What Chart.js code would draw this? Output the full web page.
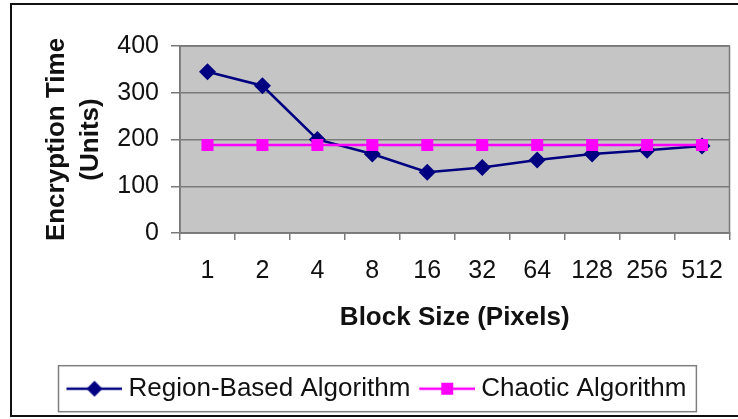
<!DOCTYPE html>
<html>
<head>
<meta charset="utf-8">
<script src="https://cdn.jsdelivr.net/npm/chart.js@4/dist/chart.umd.min.js"></script>
<style>
  html, body { margin: 0; padding: 0; background: #fff; }
  #wrap { position: relative; width: 738px; height: 419px; }
</style>
</head>
<body>
<div id="wrap"><canvas id="grafico"></canvas></div>
<script>
// Dados
const blocos = ['1', '2', '4', '8', '16', '32', '64', '128', '256', '512'];
const regionBased = [345, 315, 200, 169, 130, 140, 156, 169, 177, 186];
const chaotic = [188, 188, 188, 188, 188, 188, 188, 188, 188, 188];
const yTicks = [0, 100, 200, 300, 400];

const fonte = '"Liberation Sans", Arial, sans-serif';
const azul = '#000080';
const rosa = '#ff00ff';
const cinzaGrade = '#7a7a7a';

// icones da legenda: linha com marcador (desenhados na parte direita da imagem)
function iconeLegenda(cor, forma) {
  const c = document.createElement('canvas');
  c.width = 64; c.height = 20;
  const g = c.getContext('2d');
  g.strokeStyle = cor; g.lineWidth = 2.5;
  g.beginPath(); g.moveTo(8, 10); g.lineTo(64, 10); g.stroke();
  g.fillStyle = cor;
  g.beginPath();
  if (forma === 'diamante') {
    g.moveTo(36, 2); g.lineTo(44, 10); g.lineTo(36, 18); g.lineTo(28, 10);
  } else {
    g.rect(30, 4, 12, 12);
  }
  g.closePath(); g.fill();
  return c;
}
const icones = [iconeLegenda(azul, 'diamante'), iconeLegenda(rosa, 'quadrado')];

const fundo = {
  id: 'fundo',
  beforeDraw(chart) {
    const { ctx, chartArea: a } = chart;
    ctx.save();
    ctx.fillStyle = '#fff';
    ctx.fillRect(0, 0, chart.width, chart.height);
    ctx.strokeStyle = '#111';
    ctx.lineWidth = 2;
    ctx.strokeRect(11, 4, 740, 412);
    ctx.fillStyle = '#c5c5c5';
    ctx.fillRect(a.left, a.top, a.right - a.left, a.bottom - a.top);
    ctx.restore();
  },
  beforeDatasetsDraw(chart) {
    const { ctx, chartArea: a } = chart;
    ctx.save();
    ctx.strokeStyle = cinzaGrade;
    ctx.lineWidth = 1.5;
    ctx.strokeRect(a.left, a.top, a.right - a.left, a.bottom - a.top);
    ctx.restore();
  },
  afterDraw(chart) {
    const hb = chart.legend && chart.legend.legendHitBoxes;
    if (!hb || !hb.length) return;
    const { ctx } = chart;
    const ult = hb[hb.length - 1];
    const cy = hb[0].top + hb[0].height / 2;
    const esq = hb[0].left - 7;
    ctx.save();
    ctx.strokeStyle = '#808080';
    ctx.lineWidth = 1.5;
    ctx.strokeRect(esq, cy - 23, ult.left + ult.width + 10 - esq, 46);
    ctx.restore();
  }
};

new Chart(document.getElementById('grafico'), {
  type: 'line',
  data: {
    labels: blocos,
    datasets: [
      {
        label: 'Region-Based Algorithm', data: regionBased, order: 1,
        borderColor: azul, backgroundColor: azul, borderWidth: 2.5,
        pointStyle: 'rectRot', pointRadius: 8.5, pointBorderWidth: 0, tension: 0
      },
      {
        label: 'Chaotic Algorithm', data: chaotic, order: 0,
        borderColor: rosa, backgroundColor: rosa, borderWidth: 2.5,
        pointStyle: 'rect', pointRadius: 8.5, pointBorderWidth: 0, tension: 0
      }
    ]
  },
  options: {
    responsive: true,
    maintainAspectRatio: false,
    animation: false,
    layout: { padding: { left: 21.9, right: 8, top: 46, bottom: 7.3 } },
    plugins: {
      tooltip: { enabled: false },
      legend: {
        position: 'bottom',
        labels: {
          font: { family: fonte, size: 26 },
          color: '#111',
          usePointStyle: true,
          boxWidth: 50,
          pointStyleWidth: 50,
          padding: 7.9,
          sort: (a, b) => a.datasetIndex - b.datasetIndex,
          generateLabels(chart) {
            const itens = Chart.defaults.plugins.legend.labels.generateLabels(chart);
            itens.forEach(i => { i.pointStyle = icones[i.datasetIndex]; });
            return itens;
          }
        }
      }
    },
    scales: {
      x: {
        offset: true,
        afterFit: s => { s.height = 134.8; s.paddingLeft = 0; s.paddingRight = 0; },
        grid: { offset: true, drawOnChartArea: false, drawTicks: true, tickLength: 7, color: cinzaGrade, lineWidth: 1.5 },
        border: { color: cinzaGrade, width: 1.5 },
        ticks: { font: { family: fonte, size: 25 }, color: '#111', padding: 16, maxRotation: 0, autoSkip: false },
        title: {
          display: true, text: 'Block Size (Pixels)', color: '#111',
          font: { family: fonte, size: 26, weight: 'bold' }, padding: { top: 0, bottom: 34.2 }
        }
      },
      y: {
        min: yTicks[0], max: yTicks[yTicks.length - 1],
        afterFit: s => { s.width = 158.1; },
        afterBuildTicks: s => { s.ticks = yTicks.map(v => ({ value: v })); },
        grid: { color: cinzaGrade, lineWidth: 1.5, tickLength: 9 },
        border: { color: cinzaGrade, width: 1.5 },
        ticks: { font: { family: fonte, size: 25 }, color: '#111', padding: 12, autoSkip: false },
        title: {
          display: true, text: ['Encryption Time', '(Units)'], color: '#111',
          font: { family: fonte, size: 26, weight: 'bold', lineHeight: 1.3 }, padding: { top: 18.2, bottom: 0 }
        }
      }
    }
  },
  plugins: [fundo]
});
</script>
</body>
</html>
